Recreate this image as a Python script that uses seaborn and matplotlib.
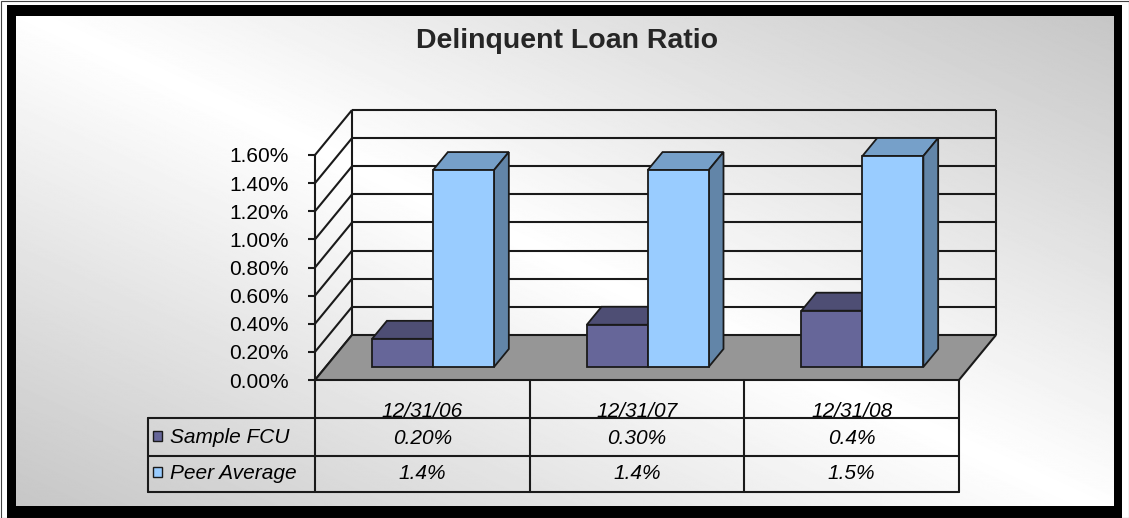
import numpy as np
import pandas as pd
import matplotlib
matplotlib.use("Agg")
import matplotlib.pyplot as plt
import matplotlib.transforms as mtransforms
from matplotlib.patches import Polygon, Rectangle
import seaborn as sns

# data
dates = ["12/31/06", "12/31/07", "12/31/08"]
series = ["Sample FCU", "Peer Average"]
sample_fcu = [0.20, 0.30, 0.40]
peer_average = [1.4, 1.4, 1.5]
sample_text = ["0.20%", "0.30%", "0.4%"]
peer_text = ["1.4%", "1.4%", "1.5%"]
y_ticks = [0.0, 0.2, 0.4, 0.6, 0.8, 1.0, 1.2, 1.4, 1.6]
title = "Delinquent Loan Ratio"

colors = ["#666699", "#99ccff"]
top_colors = ["#4e4e74", "#76a0c9"]
side_colors = ["#45456a", "#6285a8"]
ink = "#1a1a1a"

sns.set_theme(style="white")
plt.rcParams["font.family"] = ["Liberation Sans", "DejaVu Sans"]

W, H = 1129, 518
fig = plt.figure(figsize=(W / 100, H / 100), dpi=100, facecolor="white")

# background gradient and frame (pixel coords)
bg = fig.add_axes([0, 0, 1, 1])
yy, xx = np.mgrid[0:H, 0:W]
shade = 1 - 0.23 * np.abs(xx / W - yy / H)
bg.imshow(shade, cmap="gray", vmin=0, vmax=1, extent=(7, 1122, 518, 5),
          aspect="auto", interpolation="bilinear")
for x, y, w, h in [(7, 5, 1115, 11), (7, 506, 1115, 12), (7, 5, 9, 513), (1114, 5, 8, 513)]:
    bg.add_patch(Rectangle((x, y), w, h, color="black", lw=0))
bg.add_patch(Rectangle((0.5, 0.5), W - 1, H - 1, fill=False, ec="#444444", lw=0.8))
bg.set_xlim(0, W)
bg.set_ylim(H, 0)
bg.axis("off")

# plot area: front plane of the 3d box
L, B, R, T = 315, 380, 959, 155
ax = fig.add_axes([L / W, 1 - B / H, (R - L) / W, (B - T) / H])
ax.patch.set_visible(False)

df = pd.DataFrame({
    "date": dates * 2,
    "series": [series[0]] * 3 + [series[1]] * 3,
    "value": sample_fcu + peer_average,
})
sns.barplot(data=df, x="date", y="value", hue="series", hue_order=series,
            palette=colors, width=0.568, gap=0, saturation=1,
            edgecolor=ink, linewidth=1.3, legend=False, ax=ax)
bars = list(ax.patches)

px_cat = (R - L) / 3
px_pct = (B - T) / 1.6
SX = 37 / px_cat     # depth offset in data units
SY = 45 / px_pct
D0, D1 = 0.29, 0.69
x0, x1 = -0.5, 2.5

# side wall and back wall
lkw = dict(color=ink, lw=1.5, clip_on=False, zorder=1, solid_capstyle="butt")
for v in y_ticks:
    ax.plot([x0, x0 + SX], [v, v + SY], **lkw)
    if v > 0:
        ax.plot([x0 + SX, x1 + SX], [v + SY, v + SY], **lkw)
ax.plot([x0 + SX] * 2, [SY, 1.6 + SY], **lkw)
ax.plot([x1 + SX] * 2, [SY, 1.6 + SY], **lkw)
ax.add_patch(Polygon([(x0, 0), (x1, 0), (x1 + SX, SY), (x0 + SX, SY)],
                     closed=True, fc="#969696", ec=ink, lw=1.5, clip_on=False, zorder=2))

# bars: push the front face back, then add top and side faces
dd = D1 - D0
for k, p in enumerate(bars):
    j = k // len(dates)
    bx, bw, bh = p.get_x(), p.get_width(), p.get_height()
    fx0, fy0 = bx + D0 * SX, D0 * SY
    p.set_x(fx0)
    p.set_y(fy0)
    p.set_zorder(4.5 + j)
    p.set_clip_on(False)
    top = [(fx0, fy0 + bh), (fx0 + bw, fy0 + bh),
           (fx0 + bw + dd * SX, fy0 + bh + dd * SY), (fx0 + dd * SX, fy0 + bh + dd * SY)]
    side = [(fx0 + bw, fy0), (fx0 + bw + dd * SX, fy0 + dd * SY),
            (fx0 + bw + dd * SX, fy0 + bh + dd * SY), (fx0 + bw, fy0 + bh)]
    ax.add_patch(Polygon(top, closed=True, fc=top_colors[j], ec=ink, lw=1.3, clip_on=False, zorder=4 + j))
    ax.add_patch(Polygon(side, closed=True, fc=side_colors[j], ec=ink, lw=1.3, clip_on=False, zorder=4 + j))

# axis
ax.set_yticks(y_ticks)
ax.set_yticklabels([f"{v:.2f}%" for v in y_ticks])
ax.set_xticks([])
ax.set_xlabel("")
ax.set_ylabel("")
for s in ["top", "right", "bottom"]:
    ax.spines[s].set_visible(False)
ax.spines["left"].set_color(ink)
ax.spines["left"].set_linewidth(1.5)
ax.tick_params(axis="y", left=True, direction="out", length=5, width=1.5,
               color=ink, labelsize=15, pad=14, labelcolor="black")

# data table under the floor
tr = mtransforms.blended_transform_factory(ax.transData, fig.transFigure)


def fy(py):
    return 1 - py / H


def fx(px):
    return -0.5 + (px - L) / px_cat


tkw = dict(color=ink, lw=1.5, transform=tr, clip_on=False)
xl = fx(148)
for xb in [-0.5, 0.5, 1.5, 2.5]:
    ax.plot([xb, xb], [fy(380), fy(492)], **tkw)
ax.plot([xl, xl], [fy(418), fy(492)], **tkw)
for py in [418, 456, 492]:
    ax.plot([xl, 2.5], [fy(py), fy(py)], **tkw)

txt = dict(transform=tr, fontsize=15, style="italic", color="black", va="baseline")
for i, d in enumerate(dates):
    ax.text(i, fy(417), d, ha="center", **txt)
    ax.text(i, fy(444), sample_text[i], ha="center", **txt)
    ax.text(i, fy(479), peer_text[i], ha="center", **txt)
for name, col, base in zip(series, colors, [443, 479]):
    ax.add_patch(Rectangle((fx(153), fy(base - 2)), 9 / px_cat, 10 / H, transform=tr,
                           fc=col, ec=ink, lw=1.0, clip_on=False))
    ax.text(fx(170), fy(base), name, ha="left", **txt)

ax.set_xlim(-0.5, 2.5)
ax.set_ylim(0, 1.6)

fig.text(567.5 / W, fy(48), title, ha="center", va="baseline", fontsize=20.5, fontweight="bold")

fig.savefig("out.png", dpi=100, facecolor="white")
